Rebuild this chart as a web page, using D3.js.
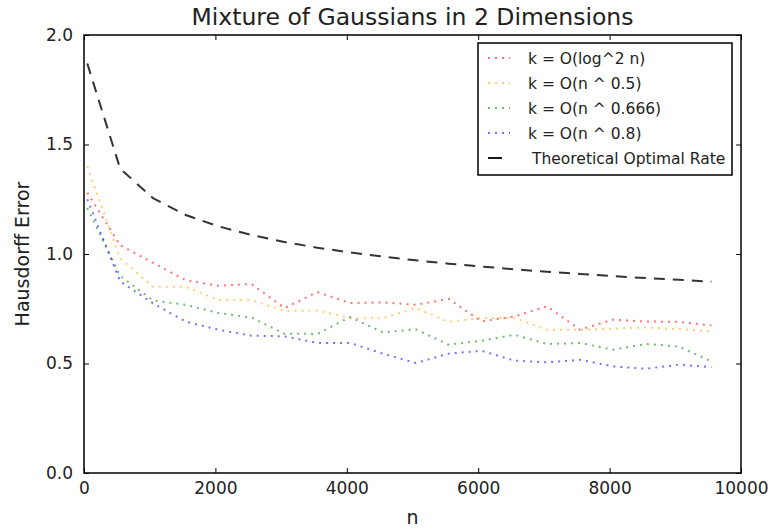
<!doctype html>
<html lang="en">
<head>
  <meta charset="utf-8">
  <title>Mixture of Gaussians in 2 Dimensions</title>
  <script src="https://d3js.org/d3.v7.min.js"></script>
  <style>
    body { margin: 0; background: #fff; }
    text { font-family: "DejaVu Sans", sans-serif; fill: #222; }
  </style>
</head>
<body>
<svg width="771" height="531"></svg>
<script>
// sample sizes, one point every 500
var ns = [50, 550, 1050, 1550, 2050, 2550, 3050, 3550, 4050, 4550,
          5050, 5550, 6050, 6550, 7050, 7550, 8050, 8550, 9050, 9550];

var logSq  = [1.28, 1.04, 0.96, 0.88, 0.855, 0.863, 0.753, 0.826, 0.776, 0.779,
              0.768, 0.795, 0.692, 0.715, 0.761, 0.654, 0.70, 0.692, 0.69, 0.674];
var pow05  = [1.40, 0.98, 0.85, 0.85, 0.79, 0.79, 0.74, 0.742, 0.707, 0.707,
              0.753, 0.69, 0.708, 0.708, 0.654, 0.654, 0.659, 0.665, 0.657, 0.647];
var pow066 = [1.21, 0.90, 0.788, 0.768, 0.73, 0.71, 0.636, 0.635, 0.712, 0.642,
              0.656, 0.586, 0.604, 0.631, 0.589, 0.594, 0.563, 0.589, 0.578, 0.51];
var pow08  = [1.25, 0.875, 0.775, 0.691, 0.654, 0.627, 0.624, 0.594, 0.594, 0.545,
              0.502, 0.545, 0.558, 0.513, 0.505, 0.517, 0.487, 0.476, 0.494, 0.484];
var optimal = [1.87, 1.39, 1.255, 1.178, 1.126, 1.087, 1.055, 1.029, 1.007, 0.988,
               0.971, 0.956, 0.943, 0.930, 0.919, 0.909, 0.899, 0.890, 0.882, 0.874];

var labels = ["k = O(log^2 n)", "k = O(n ^ 0.5)", "k = O(n ^ 0.666)", "k = O(n ^ 0.8)", "Theoretical Optimal Rate"];
var colors = ["#ff0000", "#ffa500", "#008000", "#0000ff", "#000000"];
var xTicks = [0, 2000, 4000, 6000, 8000, 10000];
var yTicks = [0.0, 0.5, 1.0, 1.5, 2.0];

var series = [logSq, pow05, pow066, pow08, optimal];

var svg = d3.select("svg");
var mLeft = 84, mRight = 741, mTop = 35, mBottom = 473;

var x = d3.scaleLinear().domain([0, 10000]).range([mLeft, mRight]);
var y = d3.scaleLinear().domain([0, 2]).range([mBottom, mTop]);

// ticks on all four sides, pointing in
var tl = 5;
svg.append("g").attr("transform", "translate(0," + mBottom + ")")
  .call(d3.axisBottom(x).tickValues(xTicks).tickSizeInner(-tl).tickSizeOuter(0).tickPadding(9).tickFormat(d3.format("d")))
  .call(function(g) { g.select(".domain").remove(); });
svg.append("g").attr("transform", "translate(0," + mTop + ")")
  .call(d3.axisTop(x).tickValues(xTicks).tickSizeInner(-tl).tickSizeOuter(0).tickFormat(""))
  .call(function(g) { g.select(".domain").remove(); });
svg.append("g").attr("transform", "translate(" + mLeft + ",0)")
  .call(d3.axisLeft(y).tickValues(yTicks).tickSizeInner(-tl).tickSizeOuter(0).tickPadding(11).tickFormat(d3.format(".1f")))
  .call(function(g) { g.select(".domain").remove(); });
svg.append("g").attr("transform", "translate(" + mRight + ",0)")
  .call(d3.axisRight(y).tickValues(yTicks).tickSizeInner(-tl).tickSizeOuter(0).tickFormat(""))
  .call(function(g) { g.select(".domain").remove(); });

svg.selectAll(".tick line").attr("stroke", "#000");
svg.selectAll(".tick text").style("font-size", "17px").attr("fill", "#222")
  .style("font-family", "DejaVu Sans, sans-serif");

var line = d3.line().x(function(d, i) { return x(ns[i]); }).y(function(d) { return y(d); });

series.forEach(function(s, i) {
  var p = svg.append("path").attr("d", line(s)).attr("fill", "none")
    .attr("stroke", colors[i]);
  if (i < 4) {
    p.attr("stroke-width", 2).attr("stroke-dasharray", "2,5").attr("stroke-opacity", 0.55);
  } else {
    p.attr("stroke-width", 2).attr("stroke-dasharray", "11,8").attr("stroke-opacity", 0.8);
  }
});

// frame
svg.append("rect").attr("x", mLeft).attr("y", mTop).attr("width", mRight - mLeft).attr("height", mBottom - mTop)
  .attr("fill", "none").attr("stroke", "#000").attr("stroke-width", 1.5);

// legend
var lg = svg.append("g");
lg.append("rect").attr("x", 478).attr("y", 43).attr("width", 254).attr("height", 132)
  .attr("fill", "#fff").attr("stroke", "#000").attr("stroke-width", 1.5);
labels.forEach(function(t, i) {
  var yy = 58 + i * 25;
  var h = lg.append("line").attr("y1", yy).attr("y2", yy).attr("stroke", colors[i]).attr("stroke-width", 2);
  if (i < 4) {
    h.attr("x1", 488).attr("x2", 510).attr("stroke-dasharray", "2,5").attr("stroke-opacity", 0.55);
  } else {
    h.attr("x1", 488).attr("x2", 502).attr("stroke-opacity", 0.9);
  }
  lg.append("text").attr("x", i < 4 ? 528 : 532).attr("y", yy).attr("dy", "0.36em")
    .style("font-size", "15.5px").text(t);
});

// titles
svg.append("text").attr("x", (mLeft + mRight) / 2).attr("y", 25).attr("text-anchor", "middle")
  .style("font-size", "23.5px").text("Mixture of Gaussians in 2 Dimensions");
svg.append("text").attr("x", (mLeft + mRight) / 2).attr("y", 524).attr("text-anchor", "middle")
  .style("font-size", "19px").text("n");
svg.append("text").attr("transform", "translate(29," + ((mTop + mBottom) / 2) + ") rotate(-90)")
  .attr("text-anchor", "middle").style("font-size", "19px").text("Hausdorff Error");
</script>
</body>
</html>
